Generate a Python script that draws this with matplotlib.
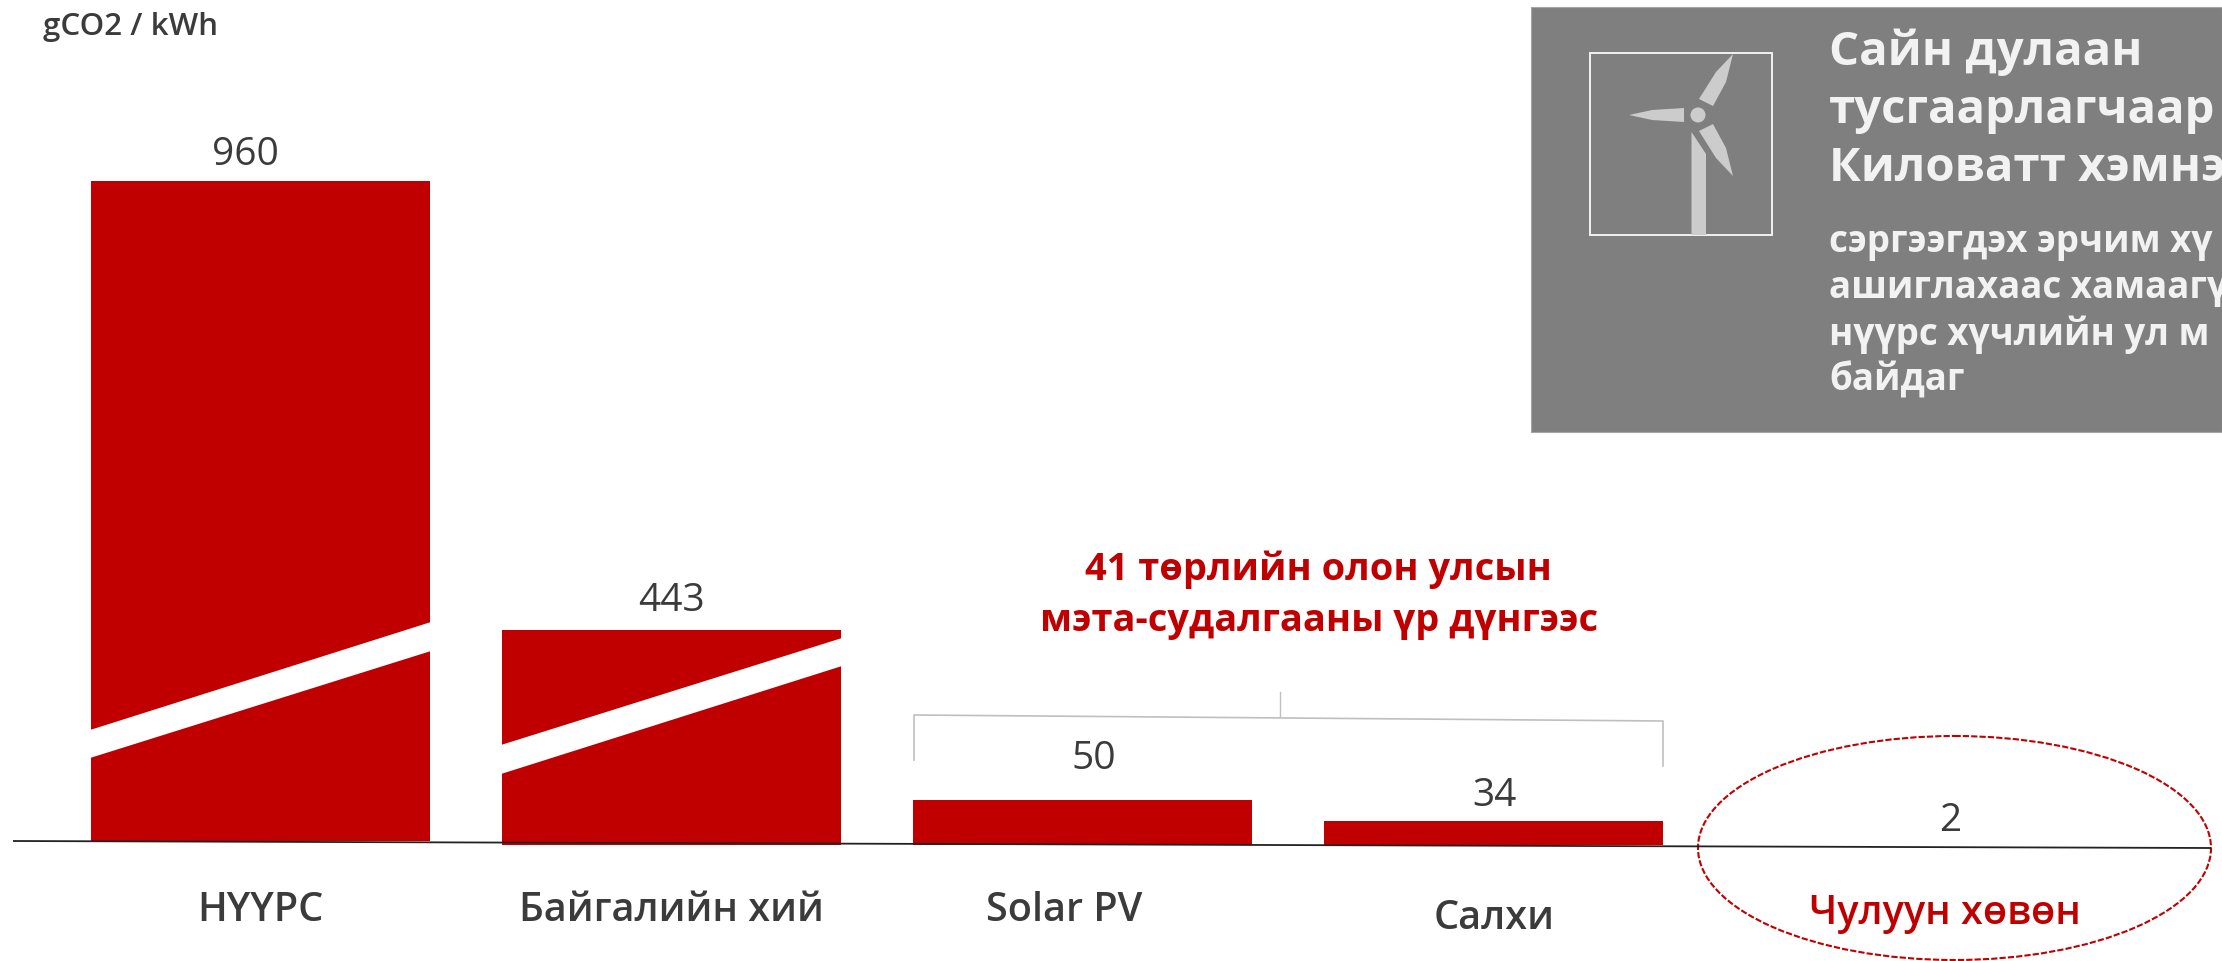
#!/usr/bin/env python3

import numpy as np
import matplotlib
matplotlib.use("Agg")
import matplotlib.pyplot as plt
from matplotlib.patches import Ellipse, Polygon, Rectangle

plt.rcParams['font.family'] = ['Open Sans', 'DejaVu Sans']

categories = ["НҮҮРС", "Байгалийн хий", "Solar PV", "Салхи", "Чулуун хөвөн"]
values = [960, 443, 50, 34, 2]
y_unit = "gCO2 / kWh"
note_lines = ["41 төрлийн олон улсын", "мэта-судалгааны үр дүнгээс"]
box_title = ["Сайн дулаан", "тусгаарлагчаар", "Киловатт хэмнэ"]
box_body = ["сэргээгдэх эрчим хү", "ашиглахаас хамаагү", "нүүрс хүчлийн ул м", "байдаг"]

# the chart's value axis is broken, so it is not linear: value -> pixel height
scale_values = [0, 2, 34, 50, 443, 960, 1200]
scale_pixels = [0, 0.01, 23.5, 44.5, 214.5, 664, 845.5]

RED = "#C00000"
DARK = "#3B3B3B"
GREY = "#7F7F7F"
LIGHT = "#F2F2F2"
BLADE = "#CCCCCC"
W, H = 2222, 962
BASE = 845.5


def forward(v):
    return np.interp(v, scale_values, scale_pixels)


def inverse(p):
    return np.interp(p, scale_pixels, scale_values)


fig = plt.figure(figsize=(W / 100, H / 100), dpi=100, facecolor="white")

# bars
ax = fig.add_axes([0, (H - BASE) / H, 1, BASE / H])
ax.set_yscale("function", functions=(forward, inverse))
ax.set_ylim(0, 1200)
ax.set_xlim(-260.5 / 411, (W - 260.5) / 411)
ax.bar(range(len(values)), values, width=339 / 411, color=RED, linewidth=0)
ax.axis("off")

# everything else is laid over the bars in picture pixels
ov = fig.add_axes([0, 0, 1, 1], facecolor="none")
ov.set_xlim(0, W)
ov.set_ylim(H, 0)
ov.axis("off")

# white cuts through the two tall bars
ov.add_patch(Polygon([(90, 731), (431, 623), (431, 652), (90, 759)], fc="white", ec="none"))
ov.add_patch(Polygon([(501, 746), (842, 639), (842, 667), (501, 775)], fc="white", ec="none"))
ov.add_patch(Rectangle((88, 842), 345, 6, fc="white", ec="none"))
ov.add_patch(Rectangle((1700, 840), 420, 8, fc="white", ec="none"))

# baseline, slightly tilted as in the slide
ov.plot([13, 2211], [842, 849], color="#222222", lw=1.3, solid_capstyle="butt")

# value labels
value_x = [245, 671, 1094, 1494, 1950]
value_y = [165, 611, 769, 806, 831]
for v, x, y in zip(values, value_x, value_y):
    ov.text(x, y, str(v), ha="center", va="baseline", fontsize=28, color=DARK)

# category labels
cat_x = [260, 671, 1064, 1494, 1945]
cat_y = [921, 921, 921, 929, 924]
for i, (c, x, y) in enumerate(zip(categories, cat_x, cat_y)):
    color = RED if i == 4 else DARK
    ov.text(x, y, c, ha="center", va="baseline", fontsize=28.5, fontweight="semibold", color=color)

ov.text(43, 35, y_unit, ha="left", va="baseline", fontsize=22.5, fontweight="semibold", color=DARK)

# note with bracket
ov.text(1318, 580, note_lines[0], ha="center", va="baseline", fontsize=27.4, fontweight="bold", color=RED)
ov.text(1319, 631, note_lines[1], ha="center", va="baseline", fontsize=27.4, fontweight="bold", color=RED)
ov.plot([914, 914, 1663, 1663], [761, 716, 722, 767], color="#BFBFBF", lw=1.2)
ov.plot([1280, 1280], [693, 718], color="#BFBFBF", lw=1)

# dashed ring around the last category
ov.add_patch(Ellipse((1954.5, 849), 513, 224, fc="none", ec=RED, lw=1.5, ls=(0, (3, 1))))

# grey box
ov.add_patch(Rectangle((1531, 8), W - 1531, 425, fc=GREY, ec="#A6A6A6", lw=0.8))
ov.add_patch(Rectangle((1590, 54), 182, 182, fc="none", ec=LIGHT, lw=1.4))

# turbine icon
ov.add_patch(Polygon([(1629, 116), (1652, 111), (1684, 109), (1684, 123), (1652, 121)], fc=BLADE, ec="none"))
ov.add_patch(Polygon([(1733, 55), (1726, 83), (1713, 107), (1699, 100), (1716, 73)], fc=BLADE, ec="none"))
ov.add_patch(Polygon([(1733, 177), (1726, 149), (1713, 125), (1699, 132), (1716, 159)], fc=BLADE, ec="none"))
ov.add_patch(Polygon([(1691.5, 133), (1706, 155), (1706, 236), (1691.5, 236)], fc=BLADE, ec="none"))
ov.add_patch(Ellipse((1698, 116), 15, 15, fc=BLADE, ec="none"))

# box text runs past the slide's right edge
title_y = [65, 123, 181]
for line, y in zip(box_title, title_y):
    ov.text(1829, y, line, ha="left", va="baseline", fontsize=34, fontweight="bold", color=LIGHT, clip_on=True)
body_y = [252, 298, 345, 391]
for line, y in zip(box_body, body_y):
    ov.text(1829, y, line, ha="left", va="baseline", fontsize=26.5, fontweight="bold", color=LIGHT, clip_on=True)

fig.savefig("out.png", dpi=100)
